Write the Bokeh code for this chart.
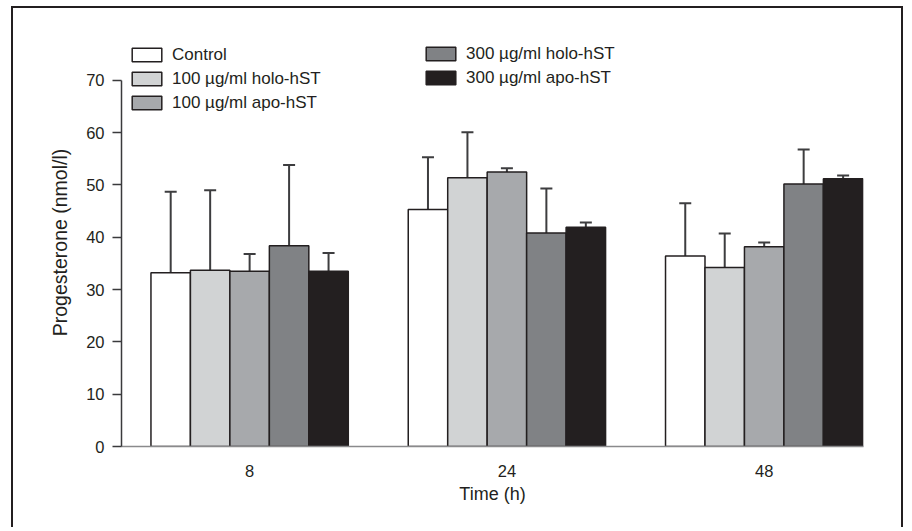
from bokeh.plotting import figure
from bokeh.models import (ColumnDataSource, Whisker, TeeHead, Legend, LegendItem,
                          FixedTicker, Range1d)
from bokeh.embed import file_html
from bokeh.resources import INLINE

# ---- data -------------------------------------------------------------
times = ["8", "24", "48"]
series = ["Control", "100 \u00b5g/ml holo-hST", "100 \u00b5g/ml apo-hST",
          "300 \u00b5g/ml holo-hST", "300 \u00b5g/ml apo-hST"]
colors = ["#ffffff", "#d1d3d4", "#a7a9ac", "#808285", "#231f20"]

control = [33.2, 45.3, 36.4]
control_err = [15.5, 10.0, 10.1]
holo100 = [33.7, 51.4, 34.2]
holo100_err = [15.3, 8.7, 6.5]
apo100 = [33.5, 52.5, 38.2]
apo100_err = [3.3, 0.7, 0.8]
holo300 = [38.4, 40.8, 50.2]
holo300_err = [15.4, 8.5, 6.6]
apo300 = [33.5, 41.9, 51.2]
apo300_err = [3.5, 0.9, 0.6]

values = [control, holo100, apo100, holo300, apo300]
errors = [control_err, holo100_err, apo100_err, holo300_err, apo300_err]

y_ticks = [0, 10, 20, 30, 40, 50, 60, 70]

# ---- figure -------------------------------------------------------------
TXT = "#231f20"
FONT = "Liberation Sans"
bw = 0.1534

p = figure(width=892, height=521, output_backend="svg", toolbar_location=None,
           x_range=Range1d(-0.498, 2.386), y_range=Range1d(0, 78),
           min_border_left=108, min_border_right=42, min_border_top=30,
           min_border_bottom=83)
p.outline_line_color = None
p.grid.visible = False
p.background_fill_color = "white"
p.border_fill_color = "white"
p.margin = (6, 0, 0, 11)
p.styles = {"border-left": "2px solid #231f20",
            "border-top": "2px solid #231f20",
            "border-right": "2px solid #231f20"}

legend_items = []
for j, (name, col, vals, errs) in enumerate(zip(series, colors, values, errors)):
    xs = [i + (j - 2) * bw for i in range(len(times))]
    src = ColumnDataSource(dict(x=xs, top=vals,
                                upper=[v + e for v, e in zip(vals, errs)]))
    r = p.vbar(x="x", top="top", bottom=0, width=bw, source=src,
               fill_color=col, line_color="#231f20", line_width=1.5)
    w = Whisker(base="x", lower="top", upper="upper", source=src,
                dimension="height", line_color="#3d3d3f", line_width=2,
                upper_head=TeeHead(size=12, line_color="#3d3d3f", line_width=2),
                lower_head=None)
    p.add_layout(w)
    legend_items.append(LegendItem(label=name, renderers=[r]))

# axes
xa = p.xaxis[0]
xa.ticker = FixedTicker(ticks=list(range(len(times))))
xa.major_label_overrides = {i: t for i, t in enumerate(times)}
xa.major_tick_line_color = None
xa.minor_tick_line_color = None
xa.axis_line_color = "#8a8a8c"
xa.axis_line_width = 1.5
xa.major_label_text_font = FONT
xa.major_label_text_font_size = "16.5px"
xa.major_label_text_color = TXT
xa.major_label_standoff = 12
xa.axis_label = "Time (h)"
xa.axis_label_text_font = FONT
xa.axis_label_text_font_size = "18px"
xa.axis_label_text_font_style = "normal"
xa.axis_label_text_color = TXT
xa.axis_label_standoff = 4

ya = p.yaxis[0]
ya.ticker = FixedTicker(ticks=y_ticks)
ya.bounds = (0, 70)
ya.minor_tick_line_color = None
ya.major_tick_out = 9
ya.major_tick_in = 0
ya.major_tick_line_color = "#3a3a3c"
ya.major_tick_line_width = 1.3
ya.axis_line_color = "#3a3a3c"
ya.axis_line_width = 1.5
ya.major_label_text_font = FONT
ya.major_label_text_font_size = "16.5px"
ya.major_label_text_color = TXT
ya.major_label_standoff = 8
ya.axis_label = "Progesterone (nmol/l)"
ya.axis_label_text_font = FONT
ya.axis_label_text_font_size = "19.5px"
ya.axis_label_text_font_style = "normal"
ya.axis_label_text_color = TXT
ya.axis_label_standoff = 12


def make_legend(items, loc):
    lg = Legend(items=items, location=loc, orientation="vertical",
                glyph_width=37, glyph_height=17, label_height=21, spacing=3,
                label_standoff=7, padding=0, margin=0,
                border_line_color=None, background_fill_alpha=0,
                label_text_font=FONT, label_text_font_size="17px",
                label_text_color=TXT)
    return lg


p.add_layout(make_legend(legend_items[:3], (7, 333)), "center")
p.add_layout(make_legend(legend_items[3:], (301, 358)), "center")

open("out.html", "w").write(file_html(p, INLINE))
